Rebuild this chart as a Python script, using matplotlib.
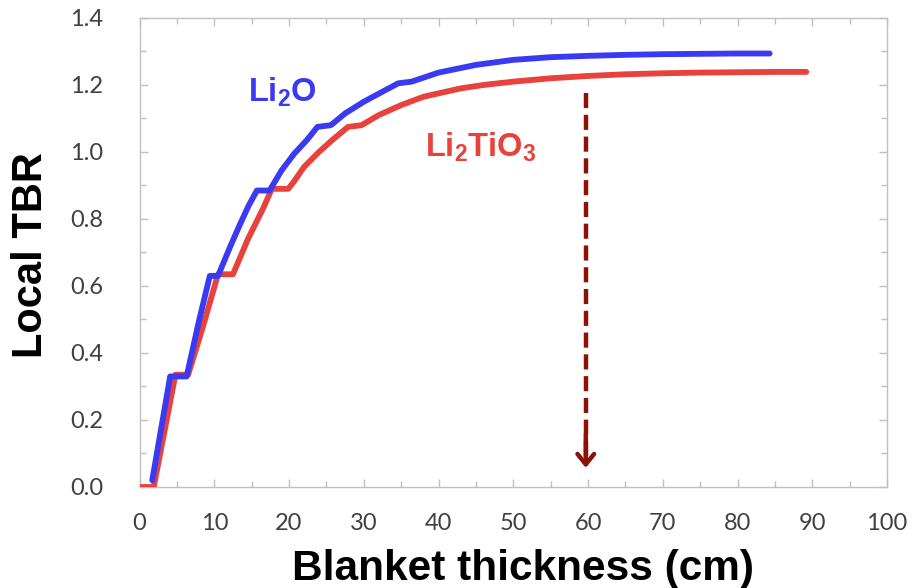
# -*- coding: utf-8 -*-
# Local TBR vs blanket thickness (Li2O / Li2TiO3)
import matplotlib.pyplot as plt
from matplotlib.ticker import MultipleLocator

# LI2O CURVE
li2o_x = [1.7, 4.1, 6.3, 8.0, 9.4, 10.5, 12.1, 13.4, 14.6, 15.7, 17.4, 19.0, 20.7, 22.4, 23.8, 25.6,
          27.5, 30.0, 32.5, 34.6, 36.4, 40, 45, 50, 55, 60, 65, 70, 75, 80, 84.3]
li2o_y = [0.02, 0.33, 0.33, 0.50, 0.63, 0.63, 0.716, 0.782, 0.84, 0.885, 0.885, 0.945, 0.995, 1.036, 1.075, 1.08,
          1.115, 1.15, 1.18, 1.205, 1.21, 1.237, 1.26, 1.275, 1.283, 1.287, 1.29, 1.292, 1.293, 1.294, 1.294]

# LI2TIO3 CURVE
li2tio3_x = [0, 1.9, 4.8, 6.5, 8.5, 10.5, 12.5, 14.5, 16.5, 17.7, 19.9, 20.6, 22.0, 24.0, 25.8, 27.9,
             29.7, 32, 35, 38, 40.6, 43, 46, 50, 55, 60, 65, 70, 75, 80, 85, 89.2]
li2tio3_y = [0, 0, 0.335, 0.335, 0.48, 0.635, 0.635, 0.74, 0.83, 0.89, 0.89, 0.91, 0.955, 1.0, 1.036, 1.075,
             1.08, 1.11, 1.14, 1.165, 1.178, 1.19, 1.2, 1.21, 1.22, 1.227, 1.232, 1.235, 1.237, 1.238, 1.239, 1.239]

# ARROW (optimum thickness)
arrow_x = 59.7
arrow_top = 1.176
arrow_tip = 0.057

blue = '#3a3af2'
red = '#e8423c'
darkred = '#8e1106'
gray = '#c0c0c0'

plt.rcParams['mathtext.fontset'] = 'custom'
plt.rcParams['mathtext.rm'] = 'Liberation Sans:bold'
plt.rcParams['mathtext.it'] = 'Liberation Sans:bold'
plt.rcParams['mathtext.bf'] = 'Liberation Sans:bold'

fig = plt.figure(figsize=(9.24, 5.88), dpi=100)
ax = fig.add_axes([0.151, 0.1718, 0.809, 0.7976])

ax.plot(li2tio3_x, li2tio3_y, color=red, lw=4.2, solid_capstyle='round', zorder=3)
ax.plot(li2o_x, li2o_y, color=blue, lw=4.2, solid_capstyle='round', zorder=3)

# dashed arrow
ax.plot([arrow_x, arrow_x], [arrow_top, arrow_tip + 0.02], color=darkred, lw=3.2,
        dashes=(3.4, 1.5), zorder=4)
ax.annotate('', xy=(arrow_x, arrow_tip), xytext=(arrow_x, arrow_tip + 0.1),
            arrowprops=dict(arrowstyle='->, head_length=0.75, head_width=0.6',
                            color=darkred, lw=3.2, shrinkA=0, shrinkB=0), zorder=4)

ax.text(14.5, 1.149, r'Li$_{2}$O', color=blue, fontsize=23.5, fontweight='bold',
        family='Liberation Sans', ha='left', va='baseline')
ax.text(38.2, 0.985, r'Li$_{2}$TiO$_{3}$', color=red, fontsize=23.5, fontweight='bold',
        family='Liberation Sans', ha='left', va='baseline')

ax.set_xlim(0, 100)
ax.set_ylim(0, 1.4)
ax.xaxis.set_major_locator(MultipleLocator(10))
ax.xaxis.set_minor_locator(MultipleLocator(5))
ax.yaxis.set_major_locator(MultipleLocator(0.2))
ax.yaxis.set_minor_locator(MultipleLocator(0.1))
ax.yaxis.set_major_formatter(plt.FormatStrFormatter('%.1f'))

for s in ax.spines.values():
    s.set_color(gray)
    s.set_linewidth(1.0)

ax.tick_params(which='both', direction='in', top=True, right=True, color=gray, width=1.0)
ax.tick_params(which='major', length=6)
ax.tick_params(which='minor', length=4)
ax.tick_params(axis='x', which='major', pad=19, labelsize=17, labelcolor='#404040')
ax.tick_params(axis='y', which='major', pad=26, labelsize=17, labelcolor='#404040')
for lab in ax.get_xticklabels() + ax.get_yticklabels():
    lab.set_family('Lato')

fig.text(523 / 924, 1 - 580 / 588, 'Blanket thickness (cm)', fontsize=30.5, fontweight='bold',
         family='Liberation Sans', ha='center', va='baseline')
fig.text(31 / 924, 1 - 255 / 588, 'Local TBR', fontsize=30, fontweight='bold',
         family='Liberation Sans', ha='center', va='center', rotation=90)

fig.savefig('out.png', dpi=100)
